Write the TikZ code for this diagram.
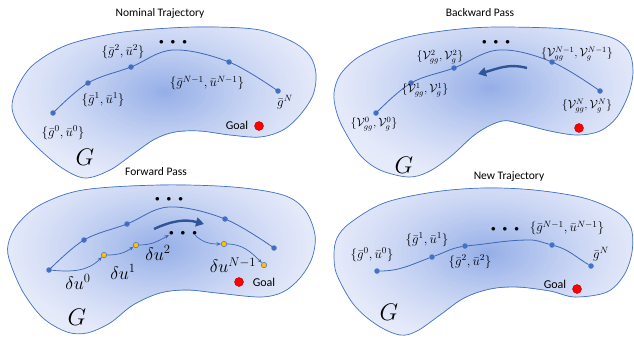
\RequirePackage{fix-cm}
\documentclass[tikz,border=0pt]{standalone}
\usepackage{fontspec}
\newfontfamily\titlefont{Carlito}
\usetikzlibrary{arrows.meta}
\definecolor{edgeblue}{RGB}{68,114,196}
\definecolor{lineblue}{RGB}{62,103,180}
\definecolor{ptblue}{RGB}{68,114,196}
\definecolor{blobin}{RGB}{150,175,232}
\definecolor{blobout}{RGB}{230,235,250}
\definecolor{arrowblue}{RGB}{47,85,151}
\definecolor{ptyellow}{RGB}{255,192,0}
\tikzset{
  edge/.style={draw=edgeblue, line width=0.7pt},
  traj/.style={draw=lineblue, line width=0.8pt},
  pt/.style={circle, fill=ptblue, inner sep=0pt, minimum size=5.5pt},
  ypt/.style={circle, fill=ptyellow, draw=ptblue, line width=0.5pt, inner sep=0pt, minimum size=5.5pt},
  goaldot/.style={circle, fill=red, draw=red!75!black, line width=0.4pt, inner sep=0pt, minimum size=9pt},
  lab/.style={font=\fontsize{13}{15}\selectfont, inner sep=0pt},
  vlab/.style={font=\fontsize{12}{14}\selectfont, inner sep=0pt},
  dlab/.style={font=\fontsize{18}{20}\selectfont, inner sep=0pt},
  bigG/.style={font=\fontsize{24}{26}\selectfont, inner sep=0pt},
  ttl/.style={font=\titlefont\fontsize{11.5}{13}\selectfont, inner sep=0pt},
  goaltxt/.style={font=\titlefont\fontsize{12}{14}\selectfont, inner sep=0pt},
  dotsn/.style={inner sep=0pt, font=\fontsize{9}{10}\selectfont},
  fwd/.style={draw=lineblue, line width=0.7pt, -{Stealth[length=4.5pt,width=3.5pt]}},
  bigarrow/.style={draw=arrowblue, line width=2.4pt, -{Triangle[length=8pt,width=9pt]}},
}
\newcommand{\threedots}{$\bullet\hspace{5pt}\bullet\hspace{5pt}\bullet$}
% #1 path, #2 cx, #3 cy, #4 rx, #5 ry
\newcommand{\blobgrad}[5]{%
  \begin{scope}
    \clip #1;
    \fill[blobout] (0,0) rectangle (634,338);
    \foreach \k in {1,...,36}{%
      \pgfmathsetmacro{\rr}{1-(\k-1)/36}%
      \pgfmathtruncatemacro{\pp}{100*((\k-1)/35)^1.25}%
      \fill[blobin!\pp!blobout] (#2,#3) ellipse [x radius={#4*\rr*1pt}, y radius={#5*\rr*1pt}];
    }
  \end{scope}
  \draw[edge] #1;
}
\def\blobA{plot[smooth cycle, tension=0.55] coordinates {
 (12,108) (17,88) (33,65) (67,45) (117,33) (170,28) (215,27) (260,30) (293,42)
 (310,56) (316,74) (313,95) (300,115) (283,130) (260,137) (230,135) (200,131)
 (175,132) (155,139) (133,154) (110,170) (85,178) (62,168) (38,148) (20,128)}}
\def\blobB{plot[smooth cycle, tension=0.55] coordinates {
 (334,93) (340,75) (357,58) (385,44) (417,35) (460,29) (500,27) (567,29) (610,37)
 (628,50) (633,70) (629,93) (617,117) (600,131) (577,135) (550,131) (522,124)
 (502,121) (477,133) (450,157) (428,172) (408,177) (380,170) (360,155) (343,128)
 (336,110)}}
\def\blobC{plot[smooth cycle, tension=0.55] coordinates {
 (8,245) (17,225) (40,205) (83,190) (160,185) (233,187) (283,195) (305,210)
 (315,235) (312,258) (300,278) (283,292) (260,297) (217,293) (187,290) (160,293)
 (133,305) (110,323) (87,333) (67,332) (43,318) (23,292) (10,262)}}
\def\blobD{plot[smooth cycle, tension=0.55] coordinates {
 (334,255) (337,238) (350,223) (384,203) (434,192) (484,188) (534,190) (584,198)
 (617,212) (631,228) (632,252) (624,275) (607,292) (575,297) (550,291) (517,287)
 (490,289) (464,298) (440,315) (417,331) (400,335) (377,325) (354,305) (337,275)}}
\begin{document}
\begin{tikzpicture}[x=1pt,y=-1pt]
\fill[white] (0,0) rectangle (634,338);
\useasboundingbox (0,0) rectangle (634,338);

% ---------- blobs ----------
\blobgrad{\blobA}{165}{92}{165}{95}
\blobgrad{\blobB}{490}{88}{165}{95}
\blobgrad{\blobC}{160}{248}{165}{95}
\blobgrad{\blobD}{488}{253}{165}{95}

% ---------- titles ----------
\node[ttl] (t1) at (160,13) {Nominal Trajectory};
\node[ttl] (t2) at (480,13) {Backward Pass};
\node[ttl] (t3) at (156,172) {Forward Pass};
\node[ttl] (t4) at (509,177) {New Trajectory};

% ---------- panel 1: nominal trajectory ----------
\coordinate (ak) at (173,50);
\node[pt] (a0) at (53,113) {};
\node[pt] (a1) at (88,83) {};
\node[pt] (a2) at (131,67) {};
\node[pt] (a3) at (229,62) {};
\node[pt] (a4) at (278,91) {};
\draw[traj] plot[smooth, tension=0.6] coordinates {(a0) (a1) (a2) (ak) (a3) (a4)};
\node[dotsn] (ad) at (173,42) {\threedots};
\node[lab] (la0) at (63,133) {$\{\bar g^0,\bar u^0\}$};
\node[lab] (la1) at (103,100) {$\{\bar g^1,\bar u^1\}$};
\node[lab] (la2) at (123,52) {$\{\bar g^2,\bar u^2\}$};
\node[lab] (la3) at (207,83) {$\{\bar g^{N-1},\bar u^{N-1}\}$};
\node[lab] (la4) at (285,102) {$\bar g^N$};
\node[goaltxt] (ga) at (237,125) {Goal};
\node[goaldot] (gda) at (259,126) {};
\node[bigG] (Ga) at (85,157) {$G$};

% ---------- panel 2: backward pass ----------
\coordinate (bk) at (499,50);
\node[pt] (b0) at (376,113) {};
\node[pt] (b1) at (411,83) {};
\node[pt] (b2) at (454,68) {};
\node[pt] (b3) at (552,62) {};
\node[pt] (b4) at (600,91) {};
\draw[traj] plot[smooth, tension=0.6] coordinates {(b0) (b1) (b2) (bk) (b3) (b4)};
\node[dotsn] (bd) at (496,42) {\threedots};
\node[vlab] (lb0) at (374,124) {$\{\mathcal V^0_{gg},\mathcal V^0_g\}$};
\node[vlab] (lb1) at (425,90) {$\{\mathcal V^1_{gg},\mathcal V^1_g\}$};
\node[vlab] (lb2) at (440,57) {$\{\mathcal V^2_{gg},\mathcal V^2_g\}$};
\node[vlab] (lb3) at (577,54) {$\{\mathcal V^{N-1}_{gg},\mathcal V^{N-1}_g\}$};
\node[vlab] (lb4) at (587,106) {$\{\mathcal V^N_{gg},\mathcal V^N_g\}$};
\node[goaldot] (gdb) at (579,128) {};
\node[bigG] (Gb) at (404,165) {$G$};
\coordinate (bat) at (527,68);
\coordinate (bah) at (478,74);
\draw[bigarrow] (bat) to[out=165,in=15] (bah);

% ---------- panel 3: forward pass ----------
\coordinate (ck) at (169,207);
\node[pt] (c0) at (49,270) {};
\node[pt] (c1) at (84,240) {};
\node[pt] (c2) at (127,224) {};
\node[pt] (c3) at (225,219) {};
\node[pt] (c4) at (274,248) {};
\draw[traj] plot[smooth, tension=0.6] coordinates {(c0) (c1) (c2) (ck) (c3) (c4)};
\node[dotsn] (cd) at (169,199) {\threedots};
\node[ypt] (y1) at (104,255) {};
\node[ypt] (y2) at (136,245) {};
\node[ypt] (y3) at (224,244) {};
\node[ypt] (y4) at (264,265) {};
\node[dotsn] (cd2) at (183,233) {\threedots};
\coordinate (f1) at (169,235);
\coordinate (f2) at (195,235);
\draw[fwd] (c0) to[out=-5,in=225] (y1);
\draw[fwd] (y1) to[out=0,in=215] (y2);
\draw[fwd] (y2) to[out=0,in=210] (f1);
\draw[fwd] (f2) to[out=-45,in=180] (y3);
\draw[fwd] (y3) to[out=0,in=135] (y4);
\node[dlab] (du0) at (78,282) {$\delta u^0$};
\node[dlab] (du1) at (123,272) {$\delta u^1$};
\node[dlab] (du2) at (158,253) {$\delta u^2$};
\node[dlab] (du3) at (233,265) {$\delta u^{N-1}$};
\coordinate (cat) at (154,229);
\coordinate (cah) at (204,224);
\draw[bigarrow] (cat) to[out=25,in=165] (cah);
\node[goaldot] (gdc) at (239,282) {};
\node[goaltxt] (gc) at (264,282) {Goal};
\node[bigG] (Gc) at (77,317) {$G$};

% ---------- panel 4: new trajectory ----------
\coordinate (dk) at (530,240);
\node[pt] (d0) at (377,271) {};
\node[pt] (d1) at (432,257) {};
\node[pt] (d2) at (465,246) {};
\node[pt] (d3) at (552,245) {};
\node[pt] (d4) at (591,266) {};
\draw[traj] (d0) to[out=0,in=200] (d1) to[out=20,in=190] (d2)
  to[out=5,in=180] (dk) to[out=0,in=165] (d3) to[out=-15,in=150] (d4);
\node[dotsn] (dd) at (505,229) {\threedots};
\node[lab] (ld0) at (372,255) {$\{\bar g^0,\bar u^0\}$};
\node[lab] (ld1) at (427,240) {$\{\bar g^1,\bar u^1\}$};
\node[lab] (ld2) at (470,262) {$\{\bar g^2,\bar u^2\}$};
\node[lab] (ld3) at (567,228) {$\{\bar g^{N-1},\bar u^{N-1}\}$};
\node[lab] (ld4) at (601,254) {$\bar g^N$};
\node[goaltxt] (gd) at (555,284) {Goal};
\node[goaldot] (gdd) at (577,289) {};
\node[bigG] (Gd) at (389,312) {$G$};
\end{tikzpicture}
\end{document}
